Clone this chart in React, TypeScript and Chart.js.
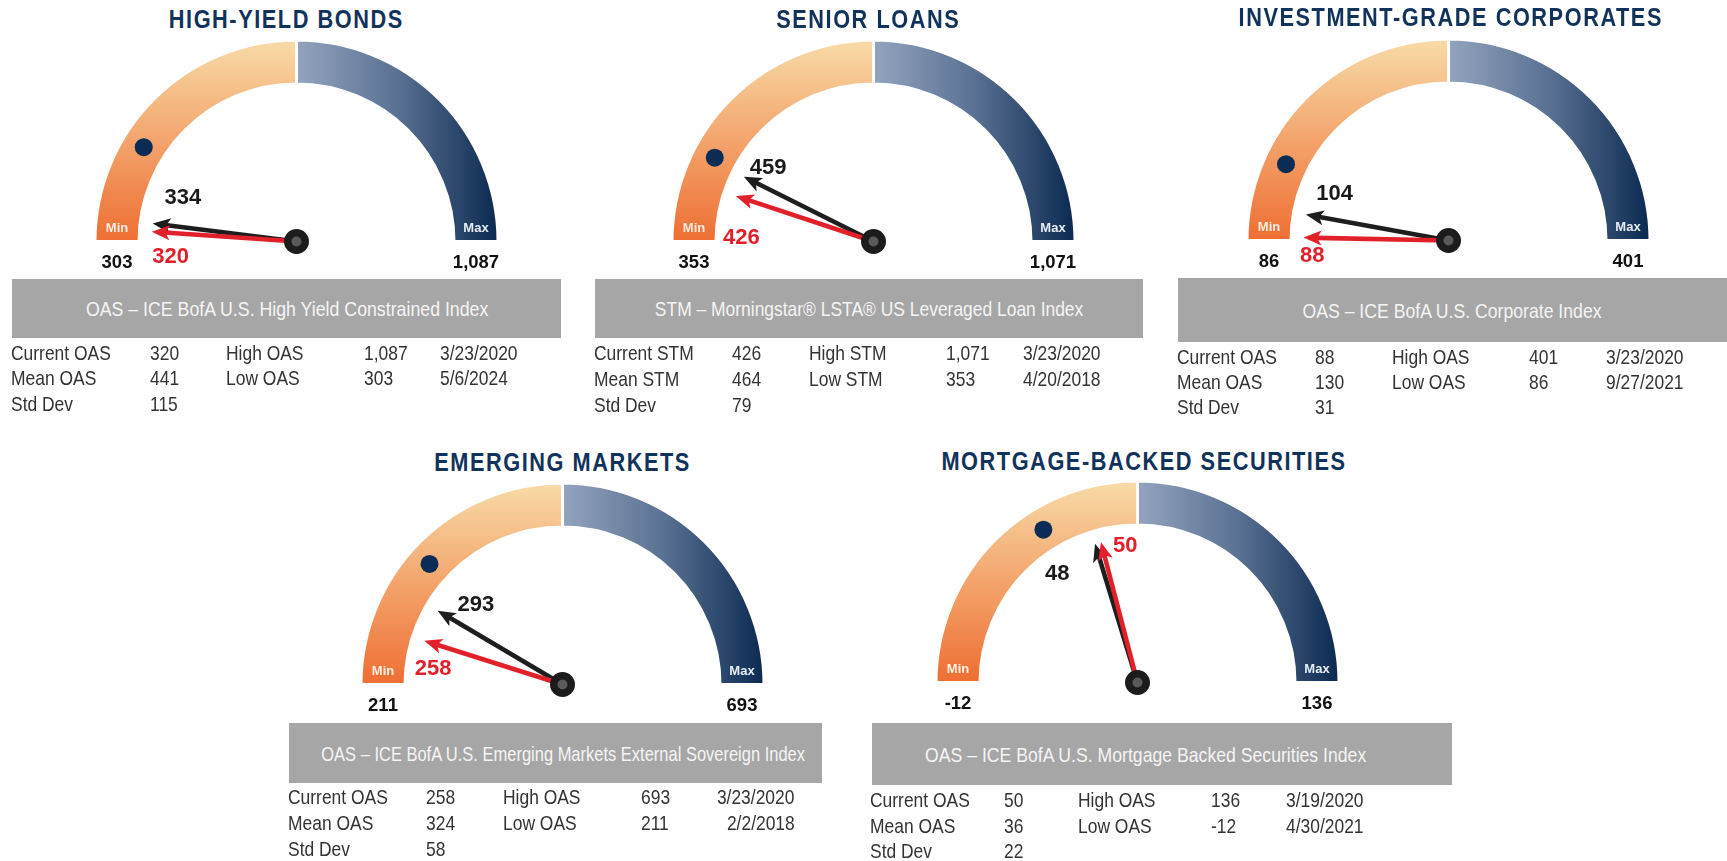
import React, { useEffect, useRef } from 'react';
import { Chart, registerables } from 'chart.js';

Chart.register(...registerables);

// ---------------- data ----------------
const titles = [
  'HIGH-YIELD BONDS',
  'SENIOR LOANS',
  'INVESTMENT-GRADE CORPORATES',
  'EMERGING MARKETS',
  'MORTGAGE-BACKED SECURITIES',
];
const indexNames = [
  'OAS – ICE BofA U.S. High Yield Constrained Index',
  'STM – Morningstar® LSTA® US Leveraged Loan Index',
  'OAS – ICE BofA U.S. Corporate Index',
  'OAS – ICE BofA U.S. Emerging Markets External Sovereign Index',
  'OAS – ICE BofA U.S. Mortgage Backed Securities Index',
];
const metricNames = ['OAS', 'STM', 'OAS', 'OAS', 'OAS'];
const minValues = [303, 353, 86, 211, -12];
const maxValues = [1087, 1071, 401, 693, 136];
const currentValues = [320, 426, 88, 258, 50];
const priorValues = [334, 459, 104, 293, 48];
const meanValues = [441, 464, 130, 324, 36];
const stdDevValues = [115, 79, 31, 58, 22];
const highDates = ['3/23/2020', '3/23/2020', '3/23/2020', '3/23/2020', '3/19/2020'];
const lowDates = ['5/6/2024', '4/20/2018', '9/27/2021', '2/2/2018', '4/30/2021'];

// ---------------- layout ----------------
type Lay = {
  cx: number; cy: number; titleX: number; titleY: number;
  box: [number, number, number, number]; boxTextX: number; boxSx: number;
  tableX: number; cols: number[]; rows: number[]; dateAlign: 'left' | 'right';
  lab: [[number, number], [number, number]];
};
const LAYOUT: Lay[] = [
  { cx: 296, cy: 241.7, titleX: 286, titleY: 18.8, box: [12.2, 279.3, 561.2, 338.3], boxTextX: 286.7, boxSx: 0.845,
    tableX: 11, cols: [0, 138.7, 215.3, 353.3, 429.1], rows: [352.4, 377.4, 403.3], dateAlign: 'left',
    lab: [[13.8, 121.6], [-11, 126.8]] },
  { cx: 873.6, cy: 241.7, titleX: 868, titleY: 18.8, box: [594.8, 279.3, 1143.4, 338.3], boxTextX: 869, boxSx: 0.83,
    tableX: 594, cols: [0, 137.7, 214.6, 352.3, 429.2], rows: [352.4, 378.3, 404], dateAlign: 'left',
    lab: [[8.3, 128.4], [-16.6, 132.2]] },
  { cx: 1448.5, cy: 240.7, titleX: 1451, titleY: 17.3, box: [1178, 278.3, 1727, 341.7], boxTextX: 1452, boxSx: 0.84,
    tableX: 1177, cols: [0, 137.8, 214.5, 351.9, 428.9], rows: [356, 381, 406], dateAlign: 'left',
    lab: [[12, 123], [-7.5, 137]] },
  { cx: 562.7, cy: 684, titleX: 562.9, titleY: 462.2, box: [289, 722.7, 821.6, 783.3], boxTextX: 563.6, boxSx: 0.785,
    tableX: 288, cols: [0, 137.5, 215, 352.5, 506.8], rows: [796.7, 822.7, 848.3], dateAlign: 'right',
    lab: [[12.1, 118], [-10.7, 130.4]] },
  { cx: 1137.4, cy: 682.5, titleX: 1144, titleY: 461.2, box: [872.2, 722.7, 1451.6, 785.5], boxTextX: 1145.7, boxSx: 0.84,
    tableX: 870.4, cols: [0, 133.2, 207.9, 341, 415.4], rows: [799, 825, 850.7], dateAlign: 'left',
    lab: [[-19.3, 135.3], [9.5, 137]] },
];

const FONT = "'Liberation Sans', Arial, Helvetica, sans-serif";
const R_OUT = 201.5;
const R_IN = 157.5;
const BORDER = 3;
const PX = 30, PT = 12, PB = 40.5;
const CW = 2 * PX + 2 * R_OUT;
const CH = PT + R_OUT + PB;
const NEEDLE_LEN = 145;

const fmt = (v: number) => v.toLocaleString('en-US');

function drawNeedle(ctx: CanvasRenderingContext2D, cx: number, cy: number, a: number, len: number, color: string) {
  const c = Math.cos(a), s = Math.sin(a);
  const px = -s, py = c;
  const head = 18, hw = 7.5, notch = 4.5;
  ctx.strokeStyle = color;
  ctx.fillStyle = color;
  ctx.lineWidth = 4.6;
  ctx.lineCap = 'butt';
  ctx.beginPath();
  ctx.moveTo(cx, cy);
  ctx.lineTo(cx + (len - head + notch + 1) * c, cy + (len - head + notch + 1) * s);
  ctx.stroke();
  const tx = cx + len * c, ty = cy + len * s;
  const bx = cx + (len - head) * c, by = cy + (len - head) * s;
  const nx = cx + (len - head + notch) * c, ny = cy + (len - head + notch) * s;
  ctx.beginPath();
  ctx.moveTo(tx, ty);
  ctx.lineTo(bx + px * hw, by + py * hw);
  ctx.lineTo(nx, ny);
  ctx.lineTo(bx - px * hw, by - py * hw);
  ctx.closePath();
  ctx.fill();
}

function Gauge({ i }: { i: number }) {
  const ref = useRef<HTMLCanvasElement | null>(null);
  const L = LAYOUT[i];
  useEffect(() => {
    const canvas = ref.current;
    if (!canvas) return;
    const min = minValues[i], max = maxValues[i];
    const mid = (min + max) / 2;
    const toAngle = (v: number) => Math.PI + (Math.PI * (v - min)) / (max - min);

    const overlay = {
      id: 'gaugeOverlay',
      afterDatasetsDraw(chart: any) {
        const ctx: CanvasRenderingContext2D = chart.ctx;
        const arc: any = chart.getDatasetMeta(0).data[0];
        const cx = arc.x, cy = arc.y;
        const ro = arc.outerRadius - BORDER / 2;
        const ri = arc.innerRadius + BORDER / 2;
        const rm = (ro + ri) / 2;
        ctx.save();
        ctx.textAlign = 'center';
        ctx.textBaseline = 'middle';
        // Min / Max inside the ring ends
        ctx.font = `bold 13px ${FONT}`;
        ctx.fillStyle = '#fdeee2';
        ctx.fillText('Min', cx - rm, cy - 13);
        ctx.fillStyle = '#e8edf4';
        ctx.fillText('Max', cx + rm, cy - 13);
        // range values under the ends
        ctx.font = `bold 18.5px ${FONT}`;
        ctx.fillStyle = '#111111';
        ctx.fillText(fmt(min), cx - rm, cy + 21.5);
        ctx.fillText(fmt(max), cx + rm, cy + 21.5);
        // mean marker
        const am = toAngle(meanValues[i]);
        ctx.beginPath();
        ctx.arc(cx + rm * Math.cos(am), cy + rm * Math.sin(am), 9, 0, Math.PI * 2);
        ctx.fillStyle = '#0b2c54';
        ctx.fill();
        // needles
        drawNeedle(ctx, cx, cy, toAngle(priorValues[i]), NEEDLE_LEN, '#1e1e1e');
        drawNeedle(ctx, cx, cy, toAngle(currentValues[i]), NEEDLE_LEN, '#e1202a');
        // hub
        ctx.beginPath();
        ctx.arc(cx, cy, 12.5, 0, Math.PI * 2);
        ctx.fillStyle = '#1c1c1c';
        ctx.fill();
        ctx.beginPath();
        ctx.arc(cx, cy, 5, 0, Math.PI * 2);
        ctx.fillStyle = '#5a5a5a';
        ctx.fill();
        // needle value labels
        ctx.font = `bold 22px ${FONT}`;
        const put = (v: number, off: number, r: number, color: string) => {
          const a = toAngle(v) + (off * Math.PI) / 180;
          ctx.fillStyle = color;
          ctx.fillText(fmt(v), cx + r * Math.cos(a), cy + r * Math.sin(a));
        };
        put(priorValues[i], L.lab[0][0], L.lab[0][1], '#1a1a1a');
        put(currentValues[i], L.lab[1][0], L.lab[1][1], '#e1202a');
        ctx.restore();
      },
    };

    const chart = new Chart(canvas, {
      type: 'doughnut',
      data: {
        labels: ['Lower half', 'Upper half'],
        datasets: [
          {
            data: [mid - min, max - mid],
            backgroundColor: (c: any) => {
              const ch = c.chart;
              const area = ch.chartArea;
              if (!area) return c.dataIndex === 0 ? '#f3a46c' : '#4e6686';
              const gx = (area.left + area.right) / 2;
              const gy = area.bottom;
              const ctx = ch.ctx;
              if (c.dataIndex === 0) {
                const g = ctx.createLinearGradient(0, gy, 0, gy - R_OUT);
                g.addColorStop(0, '#ee6e33');
                g.addColorStop(0.5, '#f3a46c');
                g.addColorStop(1, '#f8dba7');
                return g;
              }
              const g = ctx.createLinearGradient(gx, 0, gx + R_OUT, 0);
              g.addColorStop(0, '#93a4be');
              g.addColorStop(0.5, '#5a7193');
              g.addColorStop(1, '#0b2a51');
              return g;
            },
            borderColor: '#ffffff',
            borderWidth: BORDER,
          },
        ],
      },
      options: {
        responsive: false,
        animation: false,
        events: [],
        rotation: -90,
        circumference: 180,
        radius: R_OUT,
        cutout: `${(R_IN / R_OUT) * 100}%`,
        layout: { padding: { left: PX, right: PX, top: PT, bottom: PB } },
        plugins: { legend: { display: false }, tooltip: { enabled: false } },
      } as any,
      plugins: [overlay as any],
    });
    return () => chart.destroy();
  }, [i]);

  const left = Math.round(L.cx - PX - R_OUT);
  const top = Math.round(L.cy - PT - R_OUT);
  return (
    <canvas
      ref={ref}
      width={CW}
      height={CH}
      style={{ position: 'absolute', left, top, width: CW, height: CH }}
    />
  );
}

function NText(props: {
  x: number; y: number; text: string; size?: number; color?: string;
  align?: 'left' | 'right' | 'center'; weight?: number; sx?: number; ls?: number;
}) {
  const { x, y, text, size = 21, color = '#333333', align = 'left', weight = 400, sx = 0.83, ls = 0 } = props;
  const w = 700;
  const left = align === 'left' ? x : align === 'right' ? x - w : x - w / 2;
  const lh = Math.round(size * 1.3);
  const origin = align === 'left' ? 'left center' : align === 'right' ? 'right center' : 'center center';
  return (
    <div
      style={{
        position: 'absolute', left, top: y - lh / 2, width: w, height: lh, lineHeight: `${lh}px`,
        textAlign: align, fontSize: size, fontWeight: weight, color, whiteSpace: 'nowrap',
        fontFamily: FONT, letterSpacing: ls,
      }}
    >
      <span style={{ display: 'inline-block', transform: `scaleX(${sx})`, transformOrigin: origin }}>{text}</span>
    </div>
  );
}

function Panel({ i }: { i: number }) {
  const L = LAYOUT[i];
  const m = metricNames[i];
  const [bx0, by0, bx1, by1] = L.box;
  const tx = L.tableX;
  const c = L.cols;
  const r = L.rows;
  return (
    <>
      <NText x={L.titleX} y={L.titleY} text={titles[i]} size={26.5} weight={700} color="#11325b" align="center" sx={0.82} ls={1.9} />
      <Gauge i={i} />
      <div style={{ position: 'absolute', left: bx0, top: by0, width: bx1 - bx0, height: by1 - by0, background: '#a6a6a6' }} />
      <NText x={L.boxTextX} y={(by0 + by1) / 2} text={indexNames[i]} color="#f4f4f4" align="center" sx={L.boxSx} />
      <NText x={tx + c[0]} y={r[0]} text={`Current ${m}`} />
      <NText x={tx + c[0]} y={r[1]} text={`Mean ${m}`} />
      <NText x={tx + c[0]} y={r[2]} text="Std Dev" />
      <NText x={tx + c[1]} y={r[0]} text={fmt(currentValues[i])} />
      <NText x={tx + c[1]} y={r[1]} text={fmt(meanValues[i])} />
      <NText x={tx + c[1]} y={r[2]} text={fmt(stdDevValues[i])} />
      <NText x={tx + c[2]} y={r[0]} text={`High ${m}`} />
      <NText x={tx + c[2]} y={r[1]} text={`Low ${m}`} />
      <NText x={tx + c[3]} y={r[0]} text={fmt(maxValues[i])} />
      <NText x={tx + c[3]} y={r[1]} text={fmt(minValues[i])} />
      <NText x={tx + c[4]} y={r[0]} text={highDates[i]} align={L.dateAlign} />
      <NText x={tx + c[4]} y={r[1]} text={lowDates[i]} align={L.dateAlign} />
    </>
  );
}

export default function App() {
  return (
    <div
      style={{
        position: 'absolute', left: 0, top: 0, width: 1727, height: 861, overflow: 'hidden',
        background: '#ffffff', fontFamily: FONT,
      }}
    >
      {titles.map((_, i) => (
        <Panel key={i} i={i} />
      ))}
    </div>
  );
}
